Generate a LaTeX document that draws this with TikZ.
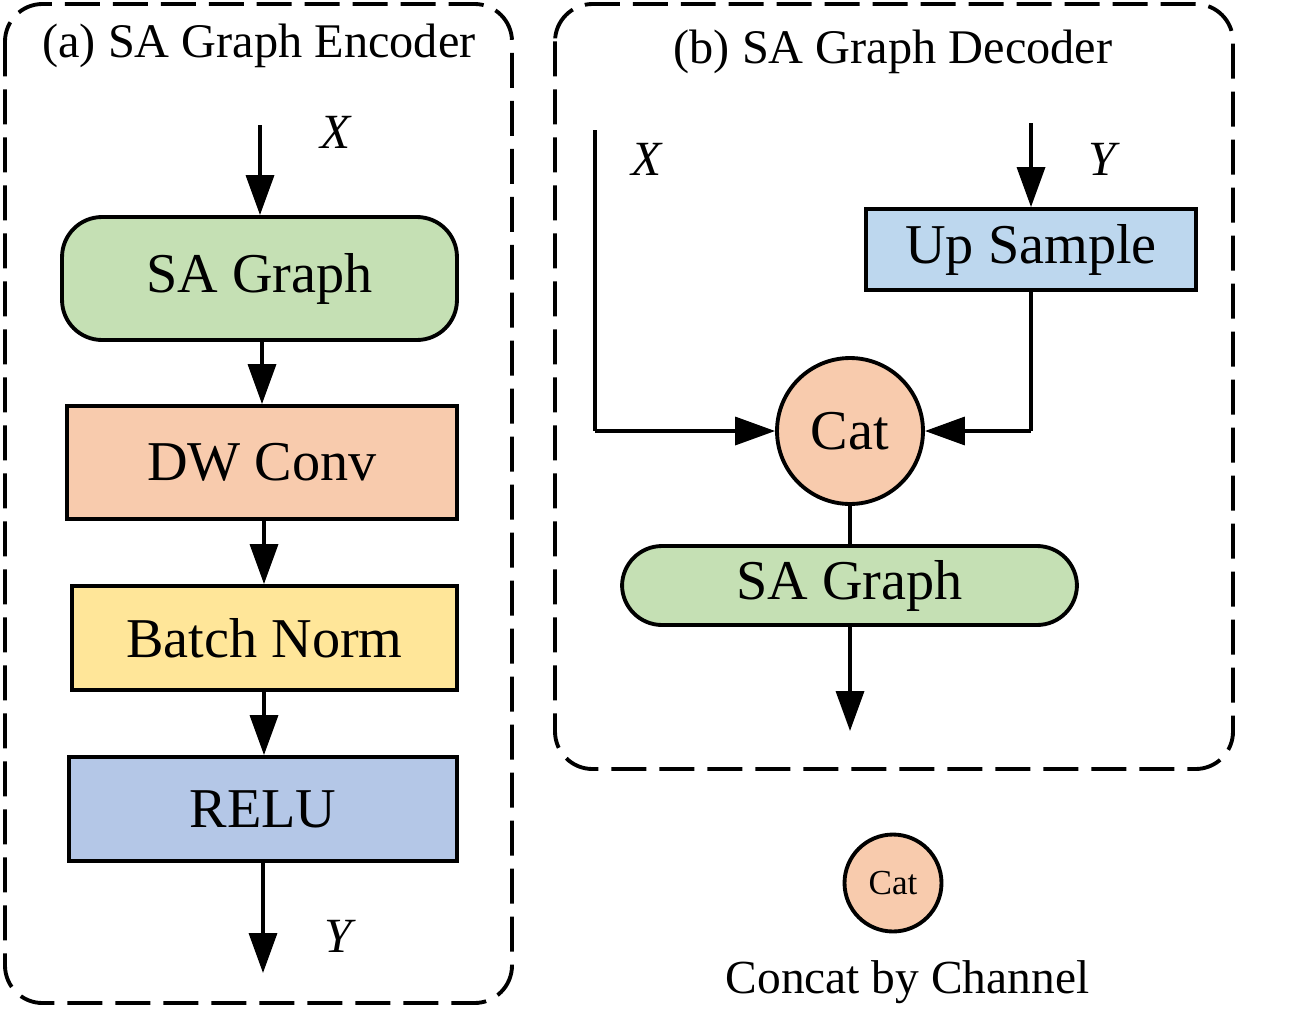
\documentclass[tikz,border=0pt]{standalone}
\usepackage{fontspec}
\setmainfont{Liberation Serif}
\newfontfamily\tnr{Liberation Serif}
\usetikzlibrary{arrows.meta,calc}
\definecolor{cgreen}{HTML}{C5E0B4}
\definecolor{corange}{HTML}{F8CBAD}
\definecolor{cyellow}{HTML}{FFE699}
\definecolor{cblue}{HTML}{B4C7E7}
\definecolor{clight}{HTML}{BDD7EE}
\begin{document}
\begin{tikzpicture}[x=0.02cm,y=-0.02cm,
  frame/.style={draw, line width=2.2pt, dash pattern=on 0.7cm off 0.26cm, rounded corners=0.75cm},
  blk/.style={draw, line width=2.2pt, inner sep=0pt, font=\tnr\fontsize{32}{38}\selectfont},
  rbox/.style={blk, rounded corners=0.8cm},
  arr/.style={line width=2pt, -{Triangle[length=0.8cm,width=0.56cm]}},
  ln/.style={line width=2pt},
  lbl/.style={anchor=base, font=\tnr\fontsize{28}{32}\selectfont\itshape},
  ttl/.style={anchor=base, font=\tnr\fontsize{27.5}{32}\selectfont}]
\useasboundingbox (0,0) rectangle (1307,1028);
% frames
\draw[frame] (5,4) rectangle (512,1003);
\draw[frame] (555,4) rectangle (1233,769);
\node[ttl] (ta) at (259,57) {(a) SA Graph Encoder};
\node[ttl] (tb) at (893,63) {(b) SA Graph Decoder};
% encoder
\node[rbox, fill=cgreen, minimum width=7.9cm, minimum height=2.46cm] (sa1) at (259.5,278.5) {SA Graph};
\node[blk, fill=corange, minimum width=7.8cm, minimum height=2.26cm] (dw) at (262,462.5) {DW Conv};
\node[blk, fill=cyellow, minimum width=7.7cm, minimum height=2.08cm] (bn) at (264.5,638) {Batch Norm};
\node[blk, fill=cblue, minimum width=7.76cm, minimum height=2.08cm] (relu) at (263,809) {RELU};
\coordinate (xin) at (260,125);
\coordinate (yout) at (263,973);
\draw[arr] (xin) -- (xin |- sa1.north);
\draw[arr] (sa1.south -| 262,0) -- (dw.north -| 262,0);
\draw[arr] (dw.south -| 264,0) -- (bn.north -| 264,0);
\draw[arr] (bn.south -| 264,0) -- (relu.north -| 264,0);
\draw[arr] (relu.south -| yout) -- (yout);
\node[lbl] (xl) at (336,148) {X};
\node[lbl] (yl) at (338,952) {Y};
% decoder
\node[blk, fill=clight, minimum width=6.6cm, minimum height=1.62cm] (up) at (1031,249.5) {Up Sample};
\node[blk, circle, fill=corange, minimum size=2.92cm] (cat) at (850,431) {Cat};
\node[rbox, fill=cgreen, minimum width=9.1cm, minimum height=1.58cm] (sa2) at (849.5,585.5) {SA Graph};
\coordinate (xin2) at (595,130);
\coordinate (yin2) at (1031,123);
\coordinate (dout) at (850,731);
\draw[ln] (xin2) -- (xin2 |- cat.west);
\draw[arr] (xin2 |- cat.west) -- (cat.west);
\draw[arr] (yin2) -- (up.north);
\draw[ln] (up.south) -- (up.south |- cat.east);
\draw[arr] (up.south |- cat.east) -- (cat.east);
\draw[ln] (cat.south) -- (sa2.north -| cat.south);
\draw[arr] (sa2.south -| dout) -- (dout);
\node[lbl] (xl2) at (647,175) {X};
\node[lbl] (yl2) at (1102,175) {Y};
% legend
\node[blk, circle, fill=corange, minimum size=1.94cm, font=\tnr\fontsize{20}{24}\selectfont] (lcat) at (893,883) {Cat};
\node[anchor=base, font=\tnr\fontsize{27}{32}\selectfont] (lt) at (907.5,993) {Concat by Channel};
\end{tikzpicture}
\end{document}
